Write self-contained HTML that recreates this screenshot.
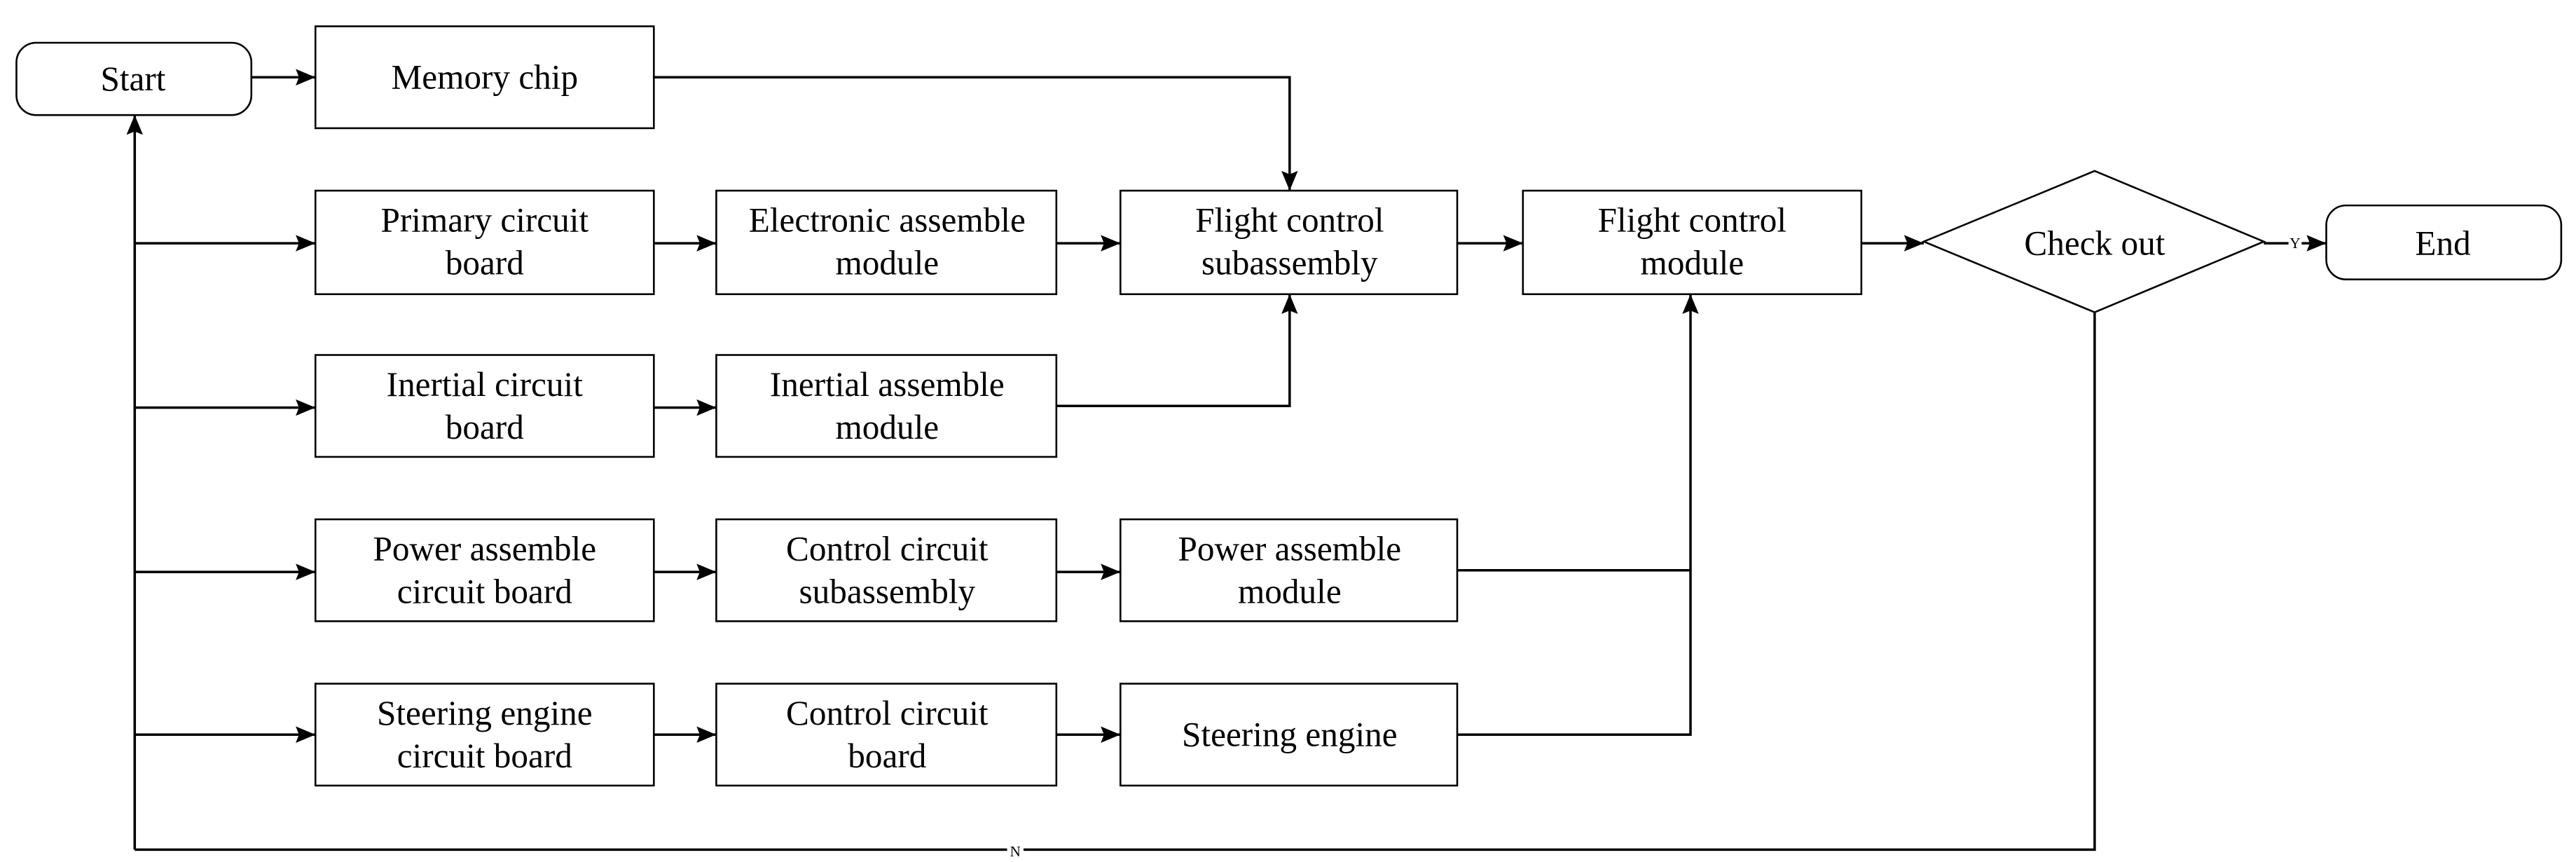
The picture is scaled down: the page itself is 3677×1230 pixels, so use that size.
<!DOCTYPE html>
<html><head><meta charset="utf-8"><style>html,body{margin:0;padding:0;background:#fff}svg{display:block}</style></head>
<body>
<svg width="3677" height="1230" viewBox="0 0 1568 524.5" xmlns="http://www.w3.org/2000/svg" font-family="'Liberation Serif', serif" font-size="21" text-anchor="middle">
<defs><marker id="a" markerWidth="12" markerHeight="10" refX="12" refY="5" orient="auto" markerUnits="userSpaceOnUse"><path d="M0,0 L12,5 L0,10 L2,5 Z" fill="#000"/></marker></defs>
<g fill="none" stroke="#000" stroke-width="1.1">
<rect x="10" y="26" width="143" height="44" rx="12"/>
<rect x="1416" y="125" width="143" height="45" rx="12"/>
<rect x="192" y="16" width="206" height="62"/>
<rect x="192" y="116" width="206" height="63"/><rect x="436" y="116" width="207" height="63"/><rect x="682" y="116" width="205" height="63"/><rect x="927" y="116" width="206" height="63"/>
<rect x="192" y="216" width="206" height="62"/><rect x="436" y="216" width="207" height="62"/>
<rect x="192" y="316" width="206" height="62"/><rect x="436" y="316" width="207" height="62"/><rect x="682" y="316" width="205" height="62"/>
<rect x="192" y="416" width="206" height="62"/><rect x="436" y="416" width="207" height="62"/><rect x="682" y="416" width="205" height="62"/>
<path d="M1171,147 L1275,104 L1378,147 L1275,190 Z"/>
</g>
<g fill="none" stroke="#000" stroke-width="1.5" marker-end="url(#a)">
<path d="M153,47 H192"/>
<path d="M398,47 H785 V116"/>
<path d="M82,517 V70"/>
<path d="M82,148 H192"/><path d="M82,248 H192"/><path d="M82,348 H192"/><path d="M82,447 H192"/>
<path d="M398,148 H436"/><path d="M643,148 H682"/><path d="M887,148 H927"/><path d="M1133,148 H1171"/>
<path d="M398,248 H436"/><path d="M643,247 H785 V179"/>
<path d="M398,348 H436"/><path d="M643,348 H682"/>
<path d="M398,447 H436"/><path d="M643,447 H682"/>
<path d="M887,447 H1029 V179"/>
<path d="M1378,148 H1416"/>
</g>
<path d="M887,347 H1029" fill="none" stroke="#000" stroke-width="1.5"/>
<path d="M1275,190 V517 H82" fill="none" stroke="#000" stroke-width="1.5"/>
<text x="81" y="55">Start</text>
<text x="1487" y="155">End</text>
<text x="1275" y="155">Check out</text>
<text x="295" y="54">Memory chip</text>
<text x="295" y="141">Primary circuit</text><text x="295" y="167">board</text>
<text x="540" y="141">Electronic assemble</text><text x="540" y="167">module</text>
<text x="785" y="141">Flight control</text><text x="785" y="167">subassembly</text>
<text x="1030" y="141">Flight control</text><text x="1030" y="167">module</text>
<text x="295" y="241">Inertial circuit</text><text x="295" y="267">board</text>
<text x="540" y="241">Inertial assemble</text><text x="540" y="267">module</text>
<text x="295" y="341">Power assemble</text><text x="295" y="367">circuit board</text>
<text x="540" y="341">Control circuit</text><text x="540" y="367">subassembly</text>
<text x="785" y="341">Power assemble</text><text x="785" y="367">module</text>
<text x="295" y="441">Steering engine</text><text x="295" y="467">circuit board</text>
<text x="540" y="441">Control circuit</text><text x="540" y="467">board</text>
<text x="785" y="454">Steering engine</text>
<rect x="1393" y="142" width="8" height="10" fill="#fff"/><text x="1397" y="151" font-size="9">Y</text>
<rect x="613" y="512" width="10" height="10" fill="#fff"/><text x="618" y="521" font-size="9">N</text>
</svg>
</body></html>
